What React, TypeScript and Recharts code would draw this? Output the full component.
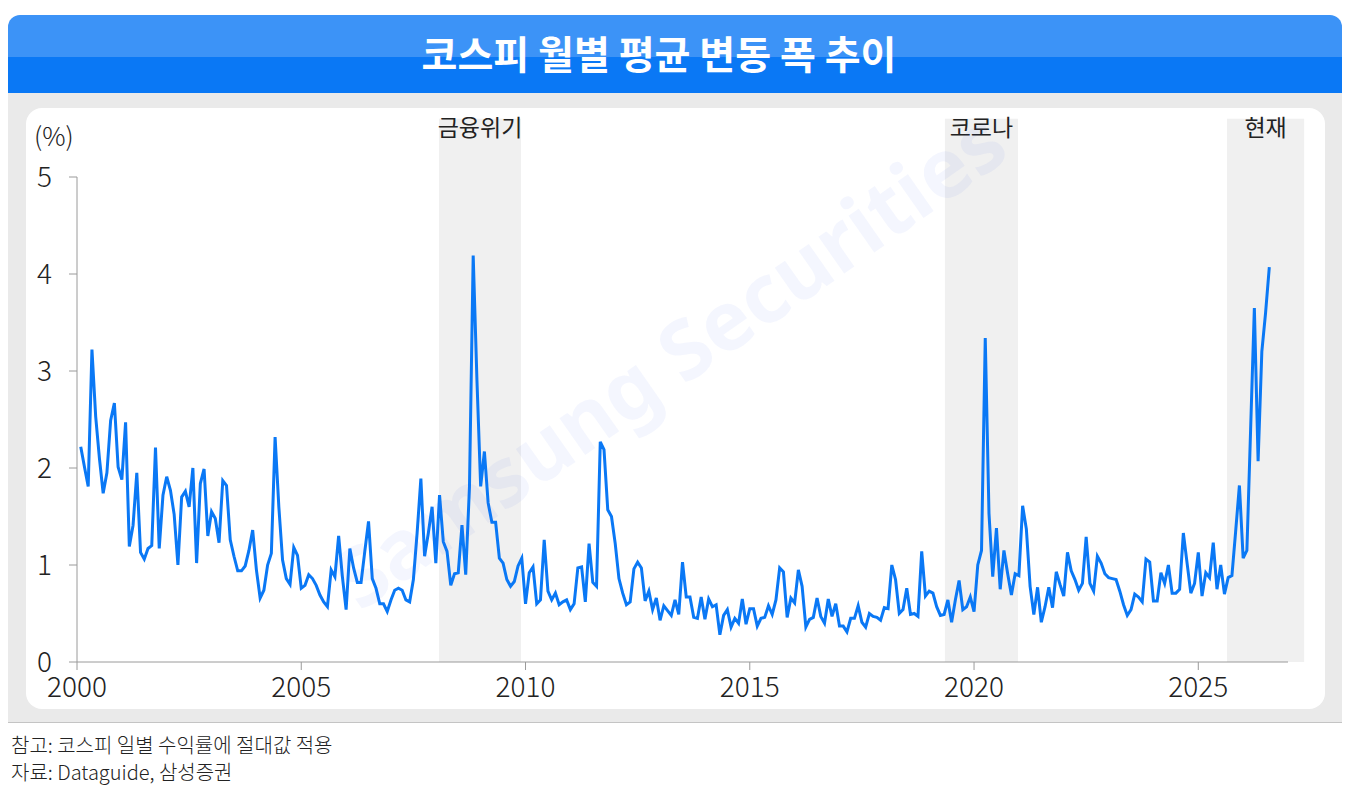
import React from 'react';
import { LineChart, Line, XAxis, YAxis, ReferenceArea } from 'recharts';

// 월별 평균 변동 폭 (%), 2000년 1월부터
const startYear = 2000;
const volatility = [
    2.22, 2.01, 1.81, 3.22, 2.53, 2.10, 1.74, 1.95, 2.49, 2.67, 2.01, 1.88,
    2.47, 1.19, 1.41, 1.95, 1.13, 1.06, 1.17, 1.20, 2.21, 1.17, 1.72, 1.91,
    1.77, 1.52, 1.00, 1.70, 1.76, 1.60, 2.00, 1.02, 1.84, 1.99, 1.30, 1.55,
    1.48, 1.23, 1.87, 1.82, 1.26, 1.09, 0.94, 0.94, 0.99, 1.15, 1.36, 0.95,
    0.66, 0.74, 1.00, 1.12, 2.32, 1.60, 1.05, 0.86, 0.80, 1.18, 1.10, 0.76,
    0.79, 0.90, 0.86, 0.79, 0.69, 0.62, 0.57, 0.95, 0.88, 1.30, 0.88, 0.54,
    1.17, 0.97, 0.82, 0.82, 1.14, 1.45, 0.86, 0.76, 0.60, 0.60, 0.52, 0.64,
    0.74, 0.76, 0.74, 0.64, 0.62, 0.85, 1.33, 1.89, 1.09, 1.33, 1.60, 1.02,
    1.72, 1.24, 1.14, 0.79, 0.91, 0.92, 1.41, 0.90, 1.80, 4.19, 2.91, 1.81,
    2.17, 1.64, 1.44, 1.44, 1.07, 1.02, 0.85, 0.78, 0.83, 0.99, 1.07, 0.60,
    0.92, 0.98, 0.60, 0.64, 1.26, 0.73, 0.64, 0.71, 0.59, 0.62, 0.64, 0.54,
    0.60, 0.97, 0.98, 0.62, 1.22, 0.82, 0.78, 2.27, 2.19, 1.57, 1.50, 1.22,
    0.86, 0.71, 0.59, 0.62, 0.96, 1.03, 0.97, 0.63, 0.73, 0.54, 0.66, 0.43,
    0.58, 0.53, 0.48, 0.64, 0.49, 1.03, 0.67, 0.67, 0.46, 0.45, 0.67, 0.44,
    0.65, 0.57, 0.59, 0.28, 0.48, 0.54, 0.36, 0.45, 0.40, 0.65, 0.39, 0.55,
    0.55, 0.37, 0.45, 0.46, 0.58, 0.49, 0.64, 0.97, 0.93, 0.46, 0.66, 0.61,
    0.95, 0.78, 0.36, 0.44, 0.46, 0.66, 0.47, 0.40, 0.65, 0.47, 0.60, 0.37,
    0.37, 0.31, 0.45, 0.45, 0.58, 0.41, 0.36, 0.50, 0.47, 0.46, 0.43, 0.56,
    0.55, 1.00, 0.85, 0.50, 0.54, 0.76, 0.49, 0.50, 0.47, 1.14, 0.68, 0.73,
    0.71, 0.57, 0.48, 0.49, 0.64, 0.41, 0.64, 0.84, 0.54, 0.57, 0.67, 0.52,
    1.00, 1.15, 3.34, 1.53, 0.88, 1.38, 0.75, 1.15, 0.91, 0.69, 0.91, 0.89,
    1.61, 1.37, 0.78, 0.49, 0.77, 0.41, 0.57, 0.77, 0.56, 0.93, 0.80, 0.68,
    1.13, 0.94, 0.85, 0.74, 0.81, 1.29, 0.81, 0.73, 1.09, 1.02, 0.91, 0.87,
    0.86, 0.85, 0.73, 0.59, 0.48, 0.54, 0.70, 0.67, 0.62, 1.06, 1.03, 0.63,
    0.63, 0.92, 0.81, 1.00, 0.71, 0.71, 0.75, 1.33, 1.02, 0.71, 0.81, 1.13,
    0.68, 0.92, 0.87, 1.23, 0.75, 1.00, 0.70, 0.87, 0.89, 1.35, 1.82, 1.07,
    1.15, 2.40, 3.65, 2.07, 3.20, 3.60, 4.07,
];
const yearTicks = [2000, 2005, 2010, 2015, 2020, 2025];
const valueTicks = [0, 1, 2, 3, 4, 5];
const periodNames = ['금융위기', '코로나', '현재'];
const periodStart = [2008.07, 2019.35, 2025.64];
const periodEnd = [2009.9, 2020.98, 2027.36];
const title = '코스피 월별 평균 변동 폭 추이';
const notes = ['참고: 코스피 일별 수익률에 절대값 적용', '자료: Dataguide, 삼성증권'];

const BLUE = '#0a78f5';
const FONT = '"Noto Sans CJK KR", "Noto Sans", sans-serif';

const data = volatility.map((v, i) => ({ t: startYear + (i + 1) / 12, v }));

export default function App() {
    return (
        <div style={{ position: 'absolute', left: 0, top: 0, width: 1354, height: 788, background: '#fff', fontFamily: FONT, overflow: 'hidden' }}>
            {/* header */}
            <div style={{ position: 'absolute', left: 8, top: 15, width: 1334, height: 78, borderRadius: '12px 12px 0 0', overflow: 'hidden' }}>
                <div style={{ height: 42, background: '#3c93f7' }} />
                <div style={{ height: 36, background: BLUE }} />
                <div style={{ position: 'absolute', left: -16, top: 0, width: '100%', height: 78, lineHeight: '75px', textAlign: 'center', color: '#fff', fontWeight: 700, fontSize: 39 }}>
                    {title}
                </div>
            </div>
            {/* gray panel + white card */}
            <div style={{ position: 'absolute', left: 8, top: 93, width: 1334, height: 629, background: '#eaeaea', borderBottom: '1px solid #c4c4c4' }} />
            <div style={{ position: 'absolute', left: 26, top: 108, width: 1299, height: 601, background: '#fff', borderRadius: 16 }} />
            <div style={{ position: 'absolute', left: 34, top: 116, fontSize: 26, fontWeight: 300, color: '#222' }}>(%)</div>

            <div style={{ position: 'absolute', left: 0, top: 0 }}>
                <LineChart width={1354} height={788} data={data} margin={{ top: 177, right: 66, bottom: 0, left: 0 }}>
                    {periodNames.map((name, k) => (
                        <ReferenceArea
                            key={name}
                            x1={periodStart[k]}
                            x2={periodEnd[k]}
                            y1={0}
                            y2={5.6}
                            ifOverflow="visible"
                            fill="#f0f0f0"
                            fillOpacity={1}
                            stroke="none"
                            label={{ value: name, position: 'insideTop', offset: 1, fill: '#222', fontSize: 23, fontFamily: FONT }}
                        />
                    ))}
                    <XAxis
                        dataKey="t"
                        type="number"
                        domain={[2000, 2027]}
                        ticks={yearTicks}
                        height={126}
                        tickSize={8}
                        tickMargin={7}
                        stroke="#9a9a9a"
                        tick={{ fill: '#222', fontSize: 28, fontWeight: 300, fontFamily: FONT }}
                    />
                    <YAxis
                        type="number"
                        domain={[0, 5]}
                        ticks={valueTicks}
                        width={77}
                        tickSize={8}
                        tickMargin={17}
                        stroke="#9a9a9a"
                        tick={{ fill: '#222', fontSize: 28, fontWeight: 300, fontFamily: FONT }}
                    />
                    <Line type="linear" dataKey="v" stroke={BLUE} strokeWidth={3} dot={false} isAnimationActive={false} />
                </LineChart>
            </div>

            {/* watermark */}
            <div style={{ position: 'absolute', left: 668, top: 358, transform: 'translate(-50%, -50%) rotate(-35deg)', whiteSpace: 'nowrap', fontSize: 82, fontWeight: 700, color: 'rgba(60,110,240,0.06)', fontFamily: '"Noto Sans", sans-serif', pointerEvents: 'none' }}>
                Samsung Securities
            </div>

            {/* footer */}
            <div style={{ position: 'absolute', left: 11, top: 731, fontSize: 20, fontWeight: 300, color: '#222', lineHeight: '27px' }}>
                {notes.map((n) => (
                    <div key={n}>{n}</div>
                ))}
            </div>
        </div>
    );
}
